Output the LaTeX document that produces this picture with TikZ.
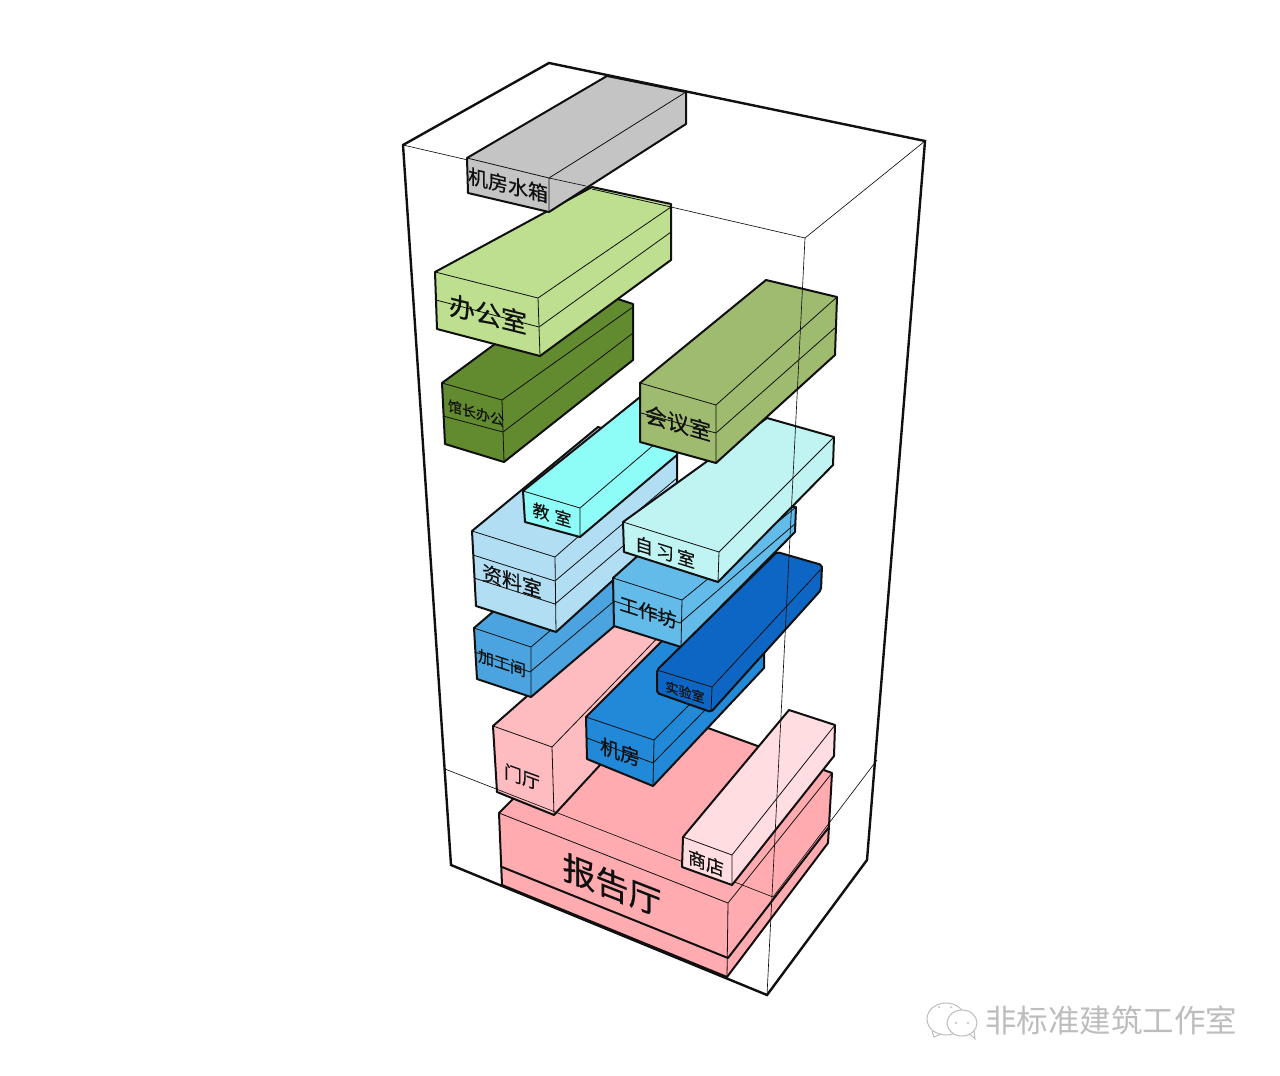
\documentclass[tikz,border=0pt]{standalone}
\usepackage{fontspec}
\newfontfamily\cjk{Noto Sans CJK SC}
\newfontfamily\cjkheavy[FakeBold=.35]{Noto Sans CJK SC}
\definecolor{rmInk}{HTML}{101010}
\definecolor{rmGray}{HTML}{C4C4C4}
\definecolor{rmOffice}{HTML}{BDDF8F}
\definecolor{rmDirector}{HTML}{628A2E}
\definecolor{rmMeeting}{HTML}{9FBB6F}
\definecolor{rmClass}{HTML}{8EFCF7}
\definecolor{rmArchive}{HTML}{B2DEF4}
\definecolor{rmWorkshop}{HTML}{4BA3DF}
\definecolor{rmStudio}{HTML}{63BBEA}
\definecolor{rmStudy}{HTML}{BFF4F3}
\definecolor{rmLab}{HTML}{0E66C4}
\definecolor{rmServer}{HTML}{2288D8}
\definecolor{rmLobby}{HTML}{FFBCC0}
\definecolor{rmHall}{HTML}{FFABB0}
\definecolor{rmShop}{HTML}{FFDDE0}
\definecolor{rmMark}{HTML}{BDBDBD}
\tikzset{
  rm outer/.style={draw=rmInk, line width=2.4pt, line cap=round},
  rm thin/.style={draw=rmInk, line width=.65pt},
  rm block/.style={draw=rmInk, line width=2pt, line join=round},
  rm edge/.style={draw=rmInk, line width=.8pt},
  rm label/.style={text=rmInk, inner sep=0pt, transform shape}
}
\begin{document}
\begin{tikzpicture}[x=1pt,y=-1pt]
  \useasboundingbox[fill=white] (0,0) rectangle (1280,1076);

  % frame behind the blocks
  \draw[rm thin] (403,145) -- (805,238) -- (925,141);
  \draw[rm outer] (403,145) -- (549,63) -- (925,141) -- (867,860) -- (767,995) -- (451,865) -- cycle;

  % hall
  \draw[rm block, fill=rmHall] (499,813) -- (615,697) -- (708,728) -- (832,773) -- (828,843) -- (727,977) -- (502,885) -- cycle;
  \draw[rm edge] (499,813) -- (728,903) -- (832,773) (728,903) -- (727,977);
  \draw[rm block] (502,867) -- (728,958) -- (829,827);

  % lobby
  \draw[rm block, fill=rmLobby] (493,726) -- (625,610) -- (670,625) -- (670,689) -- (554,815) -- (497,792) -- cycle;
  \draw[rm edge] (493,726) -- (552,747) -- (670,625) (552,747) -- (554,815);

  % level line
  \draw[rm thin] (445,769) -- (773,897) -- (877,760);

  % server room
  \draw[rm block, fill=rmServer] (586,717) -- (690,613) -- (764,630) -- (764,668) -- (653,786) -- (587,759) -- cycle;
  \draw[rm edge] (586,717) -- (654,740) -- (764,630) (654,740) -- (653,786);
  \draw[rm edge] (587,738) -- (653,763) -- (764,650);

  % workshop
  \draw[rm block, fill=rmWorkshop] (474,628) -- (570,546) -- (625,567) -- (625,617) -- (531,697) -- (477,679) -- cycle;
  \draw[rm edge] (474,628) -- (531,647) -- (625,567) (531,647) -- (531,697);
  \draw[rm edge] (475,652) -- (530,672) -- (625,592);

  % archive
  \draw[rm block, fill=rmArchive] (472,531) -- (598,427) -- (677,450) -- (677,522) -- (556,632) -- (476,606) -- cycle;
  \draw[rm edge] (472,531) -- (555,557) -- (677,450) (555,557) -- (556,632);
  \draw[rm edge] (473,555) -- (555,581) -- (677,478);
  \draw[rm edge] (474,578) -- (555,604) -- (677,500);

  % studio
  \draw[rm block, fill=rmStudio] (613,578) -- (700,500) -- (796,507) -- (795,532) -- (681,647) -- (614,626) -- cycle;
  \draw[rm edge] (613,578) -- (682,600) -- (796,507) (682,600) -- (681,647);
  \draw[rm edge] (614,601) -- (680,623) -- (796,523);

  % lab
  \draw[rm block, fill=rmLab, rounded corners=2pt] (657,670) -- (777,552) -- (822,565) -- (821,590) -- (711,712) -- (657,693) -- cycle;
  \draw[rm edge] (657,670) -- (712,687) -- (822,568) (712,687) -- (711,712);

  % classroom
  \draw[rm block, fill=rmClass] (523,491) -- (655,385) -- (677,425) -- (677,455) -- (580,537) -- (525,522) -- cycle;
  \draw[rm edge] (523,491) -- (580,508) -- (677,425) (580,508) -- (580,537);

  % study room
  \draw[rm block, fill=rmStudy] (623,522) -- (767,418) -- (834,437) -- (833,465) -- (718,582) -- (624,552) -- cycle;
  \draw[rm edge] (623,522) -- (719,552) -- (834,437) (719,552) -- (718,582);

  % meeting room
  \draw[rm block, fill=rmMeeting] (640,383) -- (766,280) -- (837,297) -- (835,355) -- (716,463) -- (640,442) -- cycle;
  \draw[rm edge] (640,383) -- (716,405) -- (837,297) (716,405) -- (716,463);
  \draw[rm edge] (641,413) -- (716,433) -- (836,327);

  % director
  \draw[rm block, fill=rmDirector] (442,383) -- (575,285) -- (633,304) -- (633,360) -- (504,462) -- (445,444) -- cycle;
  \draw[rm edge] (442,383) -- (502,400) -- (633,307) (502,400) -- (504,462);
  \draw[rm edge] (443,416) -- (503,432) -- (633,333);

  % office
  \draw[rm block, fill=rmOffice] (435,272) -- (592,187) -- (671,204) -- (671,260) -- (540,356) -- (437,329) -- cycle;
  \draw[rm edge] (435,272) -- (538,298) -- (671,207) (538,298) -- (540,356);
  \draw[rm edge] (436,300) -- (539,327) -- (671,232);
  \draw[rm edge] (592,189) -- (671,207);

  % water tank
  \draw[rm block, fill=rmGray] (467,158) -- (607,76) -- (686,92) -- (686,124) -- (549,212) -- (468,193) -- cycle;
  \draw[rm edge] (467,158) -- (549,178) -- (686,92) (549,178) -- (549,212);
  \draw[rm thin] (549,178) -- (586,186);

  % shop
  \draw[rm block, fill=rmShop] (683,837) -- (789,710) -- (835,725) -- (834,756) -- (732,885) -- (682,867) -- cycle;
  \draw[rm edge] (683,837) -- (732,855) -- (835,725) (732,855) -- (732,885);

  % near corner over everything
  \draw[rm thin] (805,238) -- (767,995);

  \node[rm label, font=\cjkheavy\fontsize{20}{20}\selectfont, yslant=-.24] (tank) at (508,185) {机房水箱};
  \node[rm label, font=\cjkheavy\fontsize{26}{26}\selectfont, yslant=-.25] (office) at (488,314) {办公室};
  \node[rm label, font=\cjkheavy\fontsize{14}{14}\selectfont, yslant=-.28] (director) at (476,413) {馆长办公};
  \node[rm label, font=\cjkheavy\fontsize{22}{22}\selectfont, yslant=-.29] (meeting) at (678,423) {会议室};
  \node[rm label, font=\cjkheavy\fontsize{17}{17}\selectfont, yslant=-.3] (classroom) at (552,515) {教\hspace{5pt}室};
  \node[rm label, font=\cjkheavy\fontsize{20}{20}\selectfont, yslant=-.31] (archive) at (512,581) {资料室};
  \node[rm label, font=\cjkheavy\fontsize{18}{18}\selectfont, yslant=-.31] (study) at (665,552) {自\hspace{3pt}习\hspace{3pt}室};
  \node[rm label, font=\cjkheavy\fontsize{19}{19}\selectfont, yslant=-.32] (studio) at (648,612) {工作坊};
  \node[rm label, font=\cjkheavy\fontsize{16}{16}\selectfont, yslant=-.33] (workshop) at (502,663) {加工间};
  \node[rm label, font=\cjkheavy\fontsize{13}{13}\selectfont, yslant=-.31] (lab) at (685,692) {实验室};
  \node[rm label, font=\cjkheavy\fontsize{20}{20}\selectfont, yslant=-.34] (server) at (620,752) {机房};
  \node[rm label, font=\cjkheavy\fontsize{18}{18}\selectfont, yslant=-.36] (lobby) at (522,777) {门厅};
  \node[rm label, font=\cjkheavy\fontsize{33}{33}\selectfont, yslant=-.39] (hall) at (612,885) {报告厅};
  \node[rm label, font=\cjkheavy\fontsize{18}{18}\selectfont, yslant=-.37] (shop) at (706,863) {商店};

  % watermark
  \draw[draw=rmMark, line width=1pt, fill=white] (946,1019) ellipse (19pt and 16pt);
  \draw[draw=rmMark, line width=1pt] (932,1031) -- (934,1037) -- (941,1034);
  \draw[draw=rmMark, line width=1pt, fill=white] (962,1023) ellipse (15pt and 13pt);
  \draw[draw=rmMark, line width=1pt] (970,1034) -- (975,1039) -- (974,1031);
  \fill[rmMark] (956,1023) circle (1.2pt) (968,1023) circle (1.2pt) (939,1007) circle (1pt) (951,1007) circle (1pt);
  \node[font=\cjk\fontsize{31.5}{32}\selectfont, text=rmMark, inner sep=0pt] (mark) at (1111,1020) {非标准建筑工作室};
\end{tikzpicture}
\end{document}
